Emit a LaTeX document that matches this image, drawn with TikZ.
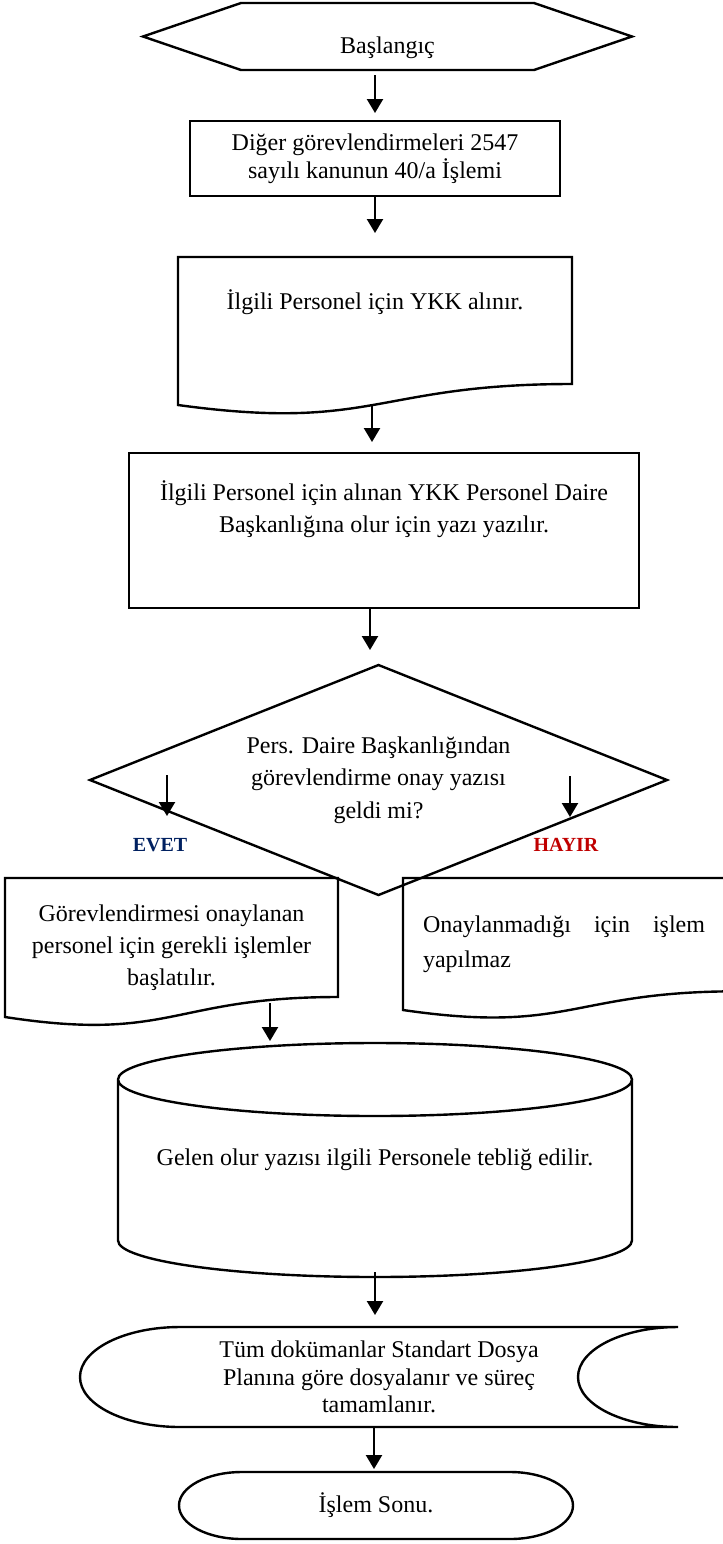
\documentclass[tikz,border=0pt]{standalone}
\usepackage{fontspec}
\setmainfont{Liberation Serif}
\usetikzlibrary{arrows.meta,positioning,calc}
\definecolor{evetmavi}{HTML}{002060}
\definecolor{hayirkirmizi}{HTML}{C00000}

\begin{document}
\begin{tikzpicture}[>={Triangle[length=7pt,width=8pt]},line width=1.2pt,x=0.5pt,y=0.5pt]
                \tikzstyle{sekil}=[inner sep=0pt,outer sep=0pt,align=center,font=\fontsize{12}{16}\selectfont]
                \tikzstyle{kutu}=[sekil,draw]
                \tikzstyle{cevap}=[inner sep=0pt,font=\fontsize{10}{12}\selectfont\bfseries]
                \useasboundingbox (0,0) rectangle (723,-1544);
                \node[sekil,minimum width=244.5pt,minimum height=33.5pt] (basla) at (387.5,-36.5) {};
                \node[sekil] (baslaYazi) at ([yshift=-5.75pt]basla.center) {Başlangıç};
                \draw (basla.west)--([xshift=49pt]basla.north west)--([xshift=-49pt]basla.north east)--(basla.east)--([xshift=-49pt]basla.south east)--([xshift=49pt]basla.south west)--cycle;
                \node[kutu,minimum width=185pt,minimum height=37.5pt,font=\fontsize{12}{14}\selectfont] (diger) at (375,-158.5) {Diğer görevlendirmeleri 2547\\sayılı kanunun 40/a İşlemi};
                \node[sekil,minimum width=197pt,minimum height=74pt] (ykk) at (375,-331) {};
                \node[sekil] (ykkYazi) at ([yshift=14.5pt]ykk.center) {İlgili Personel için YKK alınır.};
                \draw (ykk.north west)--(ykk.north east)--([yshift=10.5pt]ykk.south east) .. controls ([yshift=10.5pt]ykk.south) and ([yshift=-13.5pt]ykk.south) .. (ykk.south west)--cycle;
                \node[kutu,minimum width=255pt,minimum height=77.5pt] (yazi) at (384,-530.5) {};
                \node[sekil] (yaziYazi) at ([yshift=10.75pt]yazi.center) {İlgili Personel için alınan YKK Personel Daire\\Başkanlığına olur için yazı yazılır.};
                \node[sekil,minimum width=288.5pt,minimum height=115pt,font=\fontsize{12}{16.25}\selectfont] (karar) at (378.5,-780) {Pers. Daire Başkanlığından\\görevlendirme onay yazısı\\geldi mi?};
                \draw (karar.north)--(karar.east)--(karar.south)--(karar.west)--cycle;
                \coordinate (evetBas) at (167,-775);
                \coordinate (evetUc) at (167,-816);
                \coordinate (hayirBas) at (570,-776);
                \coordinate (hayirUc) at (570,-817);
                \draw[->] (evetBas)--(evetUc);
                \draw[->] (hayirBas)--(hayirUc);
                \node[cevap,text=evetmavi] (evet) at (160,-845) {EVET};
                \node[cevap,text=hayirkirmizi] (hayir) at (566,-845) {HAYIR};
                \node[sekil,minimum width=166.5pt,minimum height=69.5pt] (evetkutu) at (171.5,-947.5) {Görevlendirmesi onaylanan\\personel için gerekli işlemler\\başlatılır.};
                \draw (evetkutu.north west)--(evetkutu.north east)--([yshift=10pt]evetkutu.south east) .. controls ([yshift=10pt]evetkutu.south) and ([yshift=-12.85pt]evetkutu.south) .. (evetkutu.south west)--cycle;
                \node[sekil,minimum width=167.5pt,minimum height=66pt] (hayirkutu) at (570.5,-944) {};
                \node[sekil,align=left,font=\fontsize{12}{17.5}\selectfont,right=10pt of hayirkutu.west] (hayirYazi) {\makebox[141pt][s]{Onaylanmadığı için işlem}\\yapılmaz};
                \begin{scope}
                    \clip (0,0) rectangle (723,-1544);
                    \draw (hayirkutu.north west)--(hayirkutu.north east)--([yshift=9.35pt]hayirkutu.south east) .. controls ([yshift=9.35pt]hayirkutu.south) and ([yshift=-12.2pt]hayirkutu.south) .. (hayirkutu.south west)--cycle;
                \end{scope}
                \coordinate (evetCikis) at (270,-1003);
                \node[sekil,minimum width=257pt,minimum height=117pt] (tebligat) at (375,-1160) {Gelen olur yazısı ilgili Personele tebliğ edilir.};
                \draw ([yshift=-18.25pt]tebligat.north west) arc[start angle=180,end angle=360,x radius=128.5pt,y radius=18.25pt] arc[start angle=0,end angle=180,x radius=128.5pt,y radius=18.25pt]--([yshift=18.25pt]tebligat.south west) arc[start angle=180,end angle=360,x radius=128.5pt,y radius=18.25pt]--([yshift=-18.25pt]tebligat.north east);
                \node[sekil,minimum width=299pt,minimum height=50pt,font=\fontsize{12}{13.75}\selectfont] (dosya) at (379,-1377) {Tüm dokümanlar Standart Dosya\\Planına göre dosyalanır ve süreç\\tamamlanır.};
                \draw ([xshift=50pt]dosya.north west)--(dosya.north east) arc[start angle=90,end angle=270,x radius=50pt,y radius=25pt]--([xshift=50pt]dosya.south west) arc[start angle=270,end angle=90,x radius=50pt,y radius=25pt]--cycle;
                \node[sekil,minimum width=197pt,minimum height=33.5pt] (son) at (376,-1505.5) {İşlem Sonu.};
                \draw ([xshift=31.5pt]son.north west)--([xshift=-31.5pt]son.north east) arc[start angle=90,end angle=-90,x radius=31.5pt,y radius=16.75pt]--([xshift=31.5pt]son.south west) arc[start angle=270,end angle=90,x radius=31.5pt,y radius=16.75pt]--cycle;
                \draw[->,shorten <=2.5pt,shorten >=4pt] (basla.south -| diger.north)--(diger.north);
                \draw[->,shorten >=12pt] (diger.south)--(diger.south |- ykk.north);
                \draw[->,shorten >=5.5pt] ([xshift=-1.5pt]ykk.south)--([xshift=-1.5pt]ykk.south |- yazi.north);
                \draw[->,shorten >=7.5pt] ([xshift=-7pt]yazi.south)--([xshift=-7pt]yazi.south |- karar.north);
                \draw[->,shorten >=1pt] (evetCikis)--(evetCikis |- tebligat.north);
                \draw[->,shorten <=-2.5pt,shorten >=6pt] (tebligat.south)--(tebligat.south |- dosya.north);
                \draw[->,shorten >=1.5pt] ([xshift=-2.5pt]dosya.south)--([xshift=-2.5pt]dosya.south |- son.north);
            \end{tikzpicture}
\end{document}
